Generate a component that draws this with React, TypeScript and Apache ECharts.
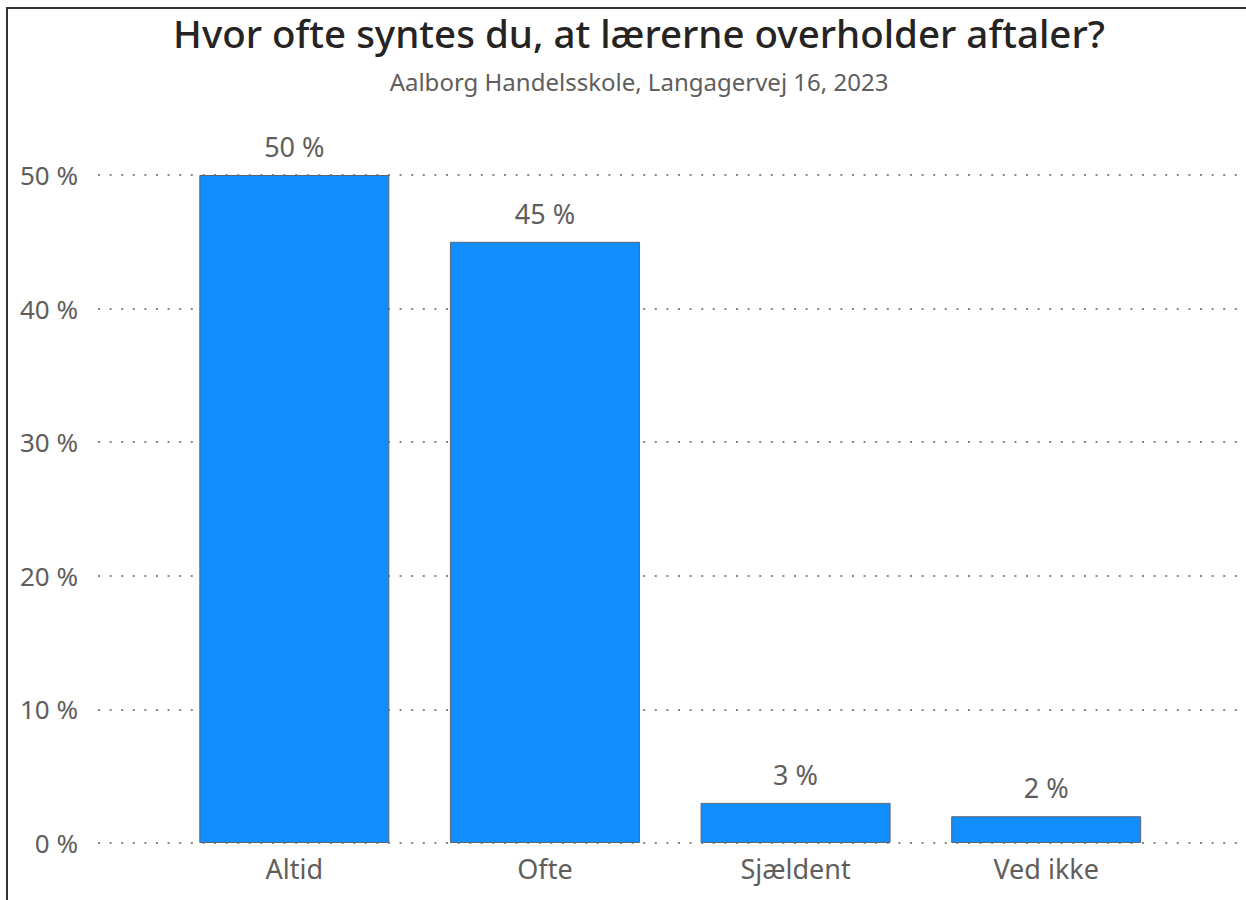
import React, { useEffect, useRef } from "react";
import * as echarts from "echarts";

const titleText = "Hvor ofte syntes du, at lærerne overholder aftaler?";
const subtitleText = "Aalborg Handelsskole, Langagervej 16, 2023";
const categories = ["Altid", "Ofte", "Sjældent", "Ved ikke"];
const values = [50, 45, 3, 2];
const yMin = 0;
const yMax = 50;
const yInterval = 10;

export default function App() {
  const ref = useRef<HTMLDivElement>(null);
  useEffect(() => {
    if (!ref.current) return;
    const chart = echarts.init(ref.current, null, { renderer: "svg" });
    const labelColor = "#605E5C";
    const font = "'Noto Sans', 'Open Sans', sans-serif";
    chart.setOption({
      animation: false,
      backgroundColor: "#ffffff",
      title: [
        {
          text: titleText,
          left: 634,
          top: 8,
          textAlign: "center",
          textStyle: {
            fontFamily: "'Noto Sans', sans-serif",
            fontSize: 38.5,
            fontWeight: 500,
            color: "#252423",
          },
        },
        {
          text: subtitleText,
          left: 634,
          top: 64,
          textAlign: "center",
          textStyle: {
            fontFamily: font,
            fontSize: 24,
            fontWeight: "normal",
            color: "#605E5C",
          },
        },
      ],
      graphic: [
        {
          type: "polyline",
          shape: { points: [[7, 900], [7, 8], [1246, 8]] },
          style: { stroke: "#333333", lineWidth: 2, fill: null },
          silent: true,
        },
      ],
      grid: [
        { left: 98, right: 6, top: 175, bottom: 57, containLabel: false },
        { left: 169, right: 74.5, top: 175, bottom: 57, containLabel: false },
      ],
      xAxis: [
        { type: "value", gridIndex: 0, show: false, min: 0, max: 1 },
        {
          type: "category",
          gridIndex: 1,
          data: categories,
          axisLine: { show: false },
          axisTick: { show: false },
          axisLabel: {
            color: labelColor,
            fontFamily: font,
            fontSize: 27,
            margin: 12,
          },
        },
      ],
      yAxis: [
        {
          type: "value",
          gridIndex: 0,
          min: yMin,
          max: yMax,
          interval: yInterval,
          axisLine: { show: false },
          axisTick: { show: false },
          axisLabel: {
            color: labelColor,
            fontFamily: font,
            fontSize: 26,
            margin: 20,
            formatter: (v: number) => `${v} %`,
          },
          splitLine: {
            show: true,
            lineStyle: { color: "#8a8886", width: 2, type: [2, 9.6] },
          },
        },
        {
          type: "value",
          gridIndex: 1,
          min: yMin,
          max: yMax,
          interval: yInterval,
          show: false,
          splitLine: { show: false },
        },
      ],
      series: [
        {
          type: "bar",
          xAxisIndex: 1,
          yAxisIndex: 1,
          data: values,
          barWidth: 190,
          itemStyle: {
            color: "#118DFF",
            borderColor: "#5A6672",
            borderWidth: 1,
          },
          label: {
            show: true,
            position: "top",
            distance: 15,
            color: labelColor,
            fontFamily: font,
            fontSize: 27,
            formatter: (p: any) => `${p.value} %`,
          },
        },
      ],
    });
    return () => chart.dispose();
  }, []);
  return (
    <div
      ref={ref}
      style={{ position: "absolute", left: 0, top: 0, width: 1246, height: 900 }}
    />
  );
}
